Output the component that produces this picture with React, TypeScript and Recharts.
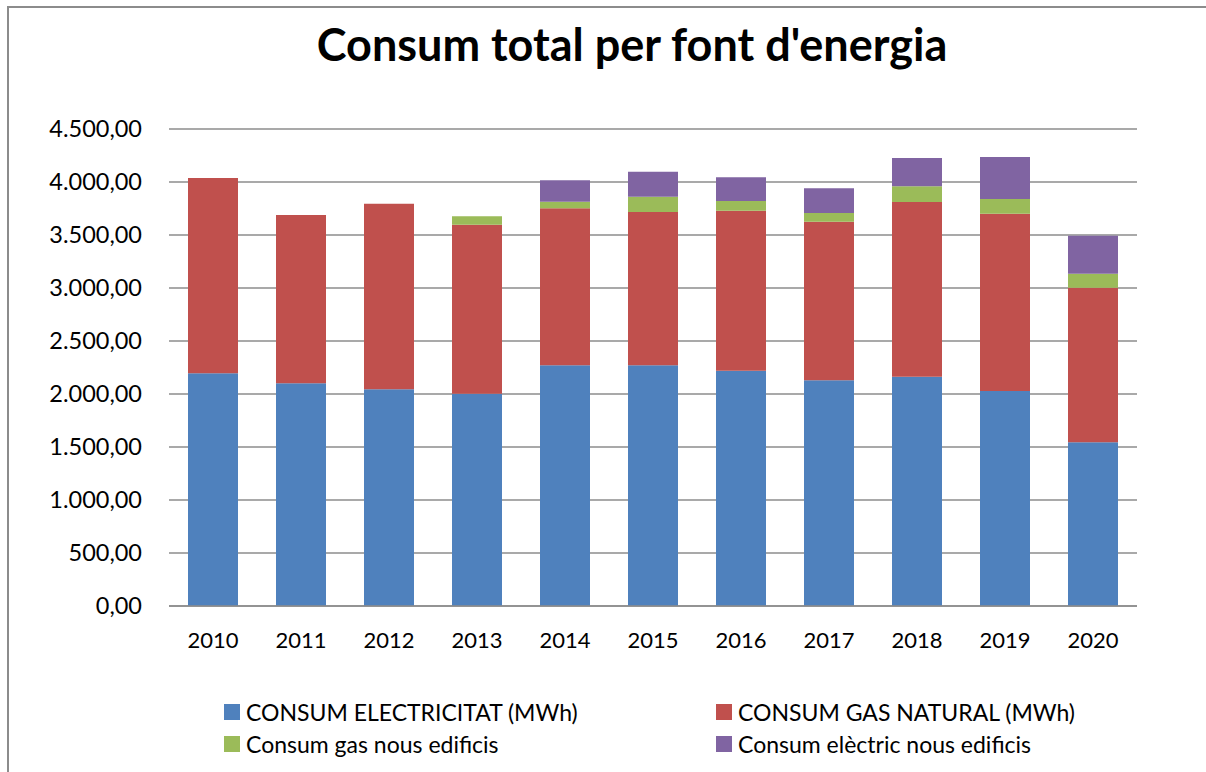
import { BarChart, Bar, XAxis, YAxis, CartesianGrid } from "recharts";

const years = ["2010", "2011", "2012", "2013", "2014", "2015", "2016", "2017", "2018", "2019", "2020"];
const consumElectricitat = [2195, 2101, 2044, 2003, 2271, 2271, 2220, 2129, 2163, 2028, 1544];
const consumGasNatural = [1843, 1588, 1751, 1594, 1481, 1446, 1509, 1497, 1648, 1673, 1459];
const consumGasNous = [0, 0, 0, 79, 62, 144, 92, 82, 148, 139, 132];
const consumElectricNous = [0, 0, 0, 0, 202, 236, 223, 232, 267, 396, 359];
const yTicks = [0, 500, 1000, 1500, 2000, 2500, 3000, 3500, 4000, 4500];

const series = [
  { key: "elec", name: "CONSUM ELECTRICITAT (MWh)", color: "#4F81BD" },
  { key: "gas", name: "CONSUM GAS NATURAL (MWh)", color: "#C0504D" },
  { key: "gasNous", name: "Consum gas nous edificis", color: "#9BBB59" },
  { key: "elecNous", name: "Consum elèctric nous edificis", color: "#8064A2" },
];

const data = years.map((year, i) => ({
  year,
  elec: consumElectricitat[i],
  gas: consumGasNatural[i],
  gasNous: consumGasNous[i],
  elecNous: consumElectricNous[i],
}));

const FONT = "Lato, 'Open Sans', sans-serif";
const GRID = "#8c8c8c";

// 4500 -> "4.500,00"
const formatNum = (v: number) => {
  const int = String(Math.round(v)).replace(/\B(?=(\d{3})+(?!\d))/g, ".");
  return `${int},00`;
};

const App = () => {
  return (
    <div
      style={{
        position: "absolute",
        left: 0,
        top: 0,
        width: 1206,
        height: 772,
        background: "#fff",
        overflow: "hidden",
        fontFamily: FONT,
      }}
    >
      <div
        style={{
          position: "absolute",
          left: 7,
          top: 6,
          width: 1300,
          height: 900,
          borderTop: `2px solid ${GRID}`,
          borderLeft: `2px solid ${GRID}`,
        }}
      />
      <div
        style={{
          position: "absolute",
          top: 17,
          left: 0,
          width: 1264,
          textAlign: "center",
          fontSize: 45,
          fontWeight: 700,
          color: "#000",
        }}
      >
        Consum total per font d'energia
      </div>
      <div style={{ position: "absolute", left: 0, top: 0 }}>
        <BarChart
          width={1206}
          height={772}
          data={data}
          margin={{ top: 129, right: 69, left: 0, bottom: 106 }}
        >
          <CartesianGrid vertical={false} stroke={GRID} strokeWidth={1.5} />
          <XAxis
            dataKey="year"
            height={60}
            tickLine={false}
            tickSize={0}
            tickMargin={26}
            axisLine={{ stroke: GRID, strokeWidth: 1.5 }}
            tick={{ fill: "#000", fontSize: 22, fontFamily: FONT }}
          />
          <YAxis
            width={169}
            domain={[0, 4500]}
            ticks={yTicks}
            interval={0}
            axisLine={false}
            tickLine={false}
            tickSize={0}
            tickMargin={27}
            tickFormatter={formatNum}
            tick={{ fill: "#000", fontSize: 23.5, fontFamily: FONT }}
          />
          {series.map((s) => (
            <Bar
              key={s.key}
              dataKey={s.key}
              name={s.name}
              stackId="a"
              fill={s.color}
              barSize={50}
              isAnimationActive={false}
            />
          ))}
        </BarChart>
      </div>
      <div
        style={{
          position: "absolute",
          top: 700,
          left: 224,
          display: "grid",
          gridTemplateColumns: "492px 400px",
          rowGap: 8,
          fontSize: 23,
          color: "#000",
        }}
      >
        {series.map((s) => (
          <div key={s.key} style={{ display: "flex", alignItems: "center", height: 24 }}>
            <span
              style={{
                display: "inline-block",
                width: 16,
                height: 16,
                background: s.color,
                marginRight: 6,
              }}
            />
            <span style={{ whiteSpace: "nowrap" }}>{s.name}</span>
          </div>
        ))}
      </div>
    </div>
  );
};

export default App;
